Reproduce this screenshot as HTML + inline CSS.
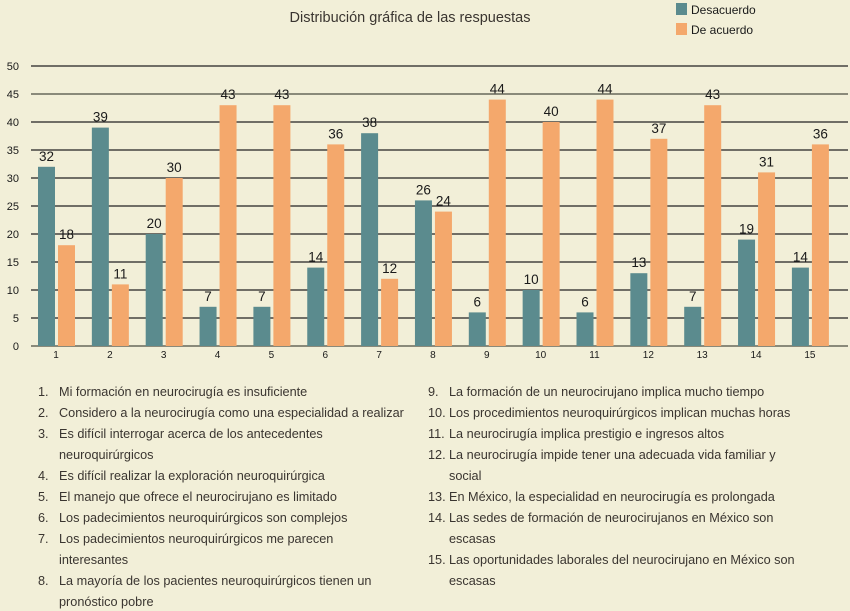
<!DOCTYPE html>
<html><head><meta charset="utf-8"><style>
body{margin:0;background:#f2efd8;font-family:"Liberation Sans",sans-serif;}
#wrap{position:relative;width:850px;height:611px;overflow:hidden;background:#f2efd8;}
.li{position:absolute;font-size:12.7px;color:#3a3530;line-height:21px;}
.li .n{position:absolute;left:0;}
.li .t{position:absolute;left:21px;white-space:nowrap;}
</style></head><body>
<div id="wrap">
<svg id="chart" width="850" height="370" style="position:absolute;left:0;top:0">
<text x="410" y="22" font-size="14.5" fill="#3a3530" text-anchor="middle">Distribución gráfica de las respuestas</text>
<g>
<rect x="676" y="3" width="11" height="12" fill="#5b8b8e"/>
<text x="691" y="14" font-size="12" fill="#1a1a1a">Desacuerdo</text>
<rect x="676" y="23" width="11" height="12" fill="#f4a86c"/>
<text x="691" y="34" font-size="12" fill="#1a1a1a">De acuerdo</text>
</g>
<g id="grid"></g><g id="bars"></g>
</svg>
<div id="list"></div>
</div>
<script>
const categories=["1","2","3","4","5","6","7","8","9","10","11","12","13","14","15"];
const desacuerdo=[32,39,20,7,7,14,38,26,6,10,6,13,7,19,14];
const deAcuerdo=[18,11,30,43,43,36,12,24,44,40,44,37,43,31,36];
const yTicks=[0,5,10,15,20,25,30,35,40,45,50];
const NS="http://www.w3.org/2000/svg";
const y=v=>346-v*5.6;
const x=i=>56+i*53.85;
function mk(tag,attrs,parent){const e=document.createElementNS(NS,tag);for(const k in attrs)e.setAttribute(k,attrs[k]);parent.appendChild(e);return e;}
const grid=document.getElementById('grid'),bars=document.getElementById('bars');
yTicks.forEach(t=>{
 const l=mk('line',{x1:31,x2:848,y1:y(t),y2:y(t),stroke:t===45||t===0?'#8a8a7a':'#222','stroke-width':t===45||t===0?2:1.2},grid);
 
 
 const tx=mk('text',{x:19,y:y(t)+4,'font-size':11,fill:'#1a1a1a','text-anchor':'end'},grid);
 tx.textContent=t;
 
 
});
categories.forEach((c,i)=>{
 const cx=x(i);
 const a=mk('rect',{x:cx-18,y:y(desacuerdo[i]),width:17,height:desacuerdo[i]*5.6,fill:'#5b8b8e'},bars);
 
 
 const b=mk('rect',{x:cx+2,y:y(deAcuerdo[i]),width:17,height:deAcuerdo[i]*5.6,fill:'#f4a86c'},bars);
 
 
 const la=mk('text',{x:cx-9.5,y:y(desacuerdo[i])-6,'font-size':13.5,fill:'#1a1a1a','text-anchor':'middle'},bars);
 la.textContent=desacuerdo[i];
 
 
 const lb=mk('text',{x:cx+10.5,y:y(deAcuerdo[i])-6,'font-size':13.5,fill:'#1a1a1a','text-anchor':'middle'},bars);
 lb.textContent=deAcuerdo[i];
 
 
 const xl=mk('text',{x:cx,y:358,'font-size':10,fill:'#1a1a1a','text-anchor':'middle'},bars);
 xl.textContent=c;
 
 
});
const items=[
[38,382,"1.","Mi formación en neurocirugía es insuficiente"],
[38,403,"2.","Considero a la neurocirugía como una especialidad a realizar"],
[38,424,"3.","Es difícil interrogar acerca de los antecedentes<br>neuroquirúrgicos"],
[38,466,"4.","Es difícil realizar la exploración neuroquirúrgica"],
[38,487,"5.","El manejo que ofrece el neurocirujano es limitado"],
[38,508,"6.","Los padecimientos neuroquirúrgicos son complejos"],
[38,529,"7.","Los padecimientos neuroquirúrgicos me parecen<br>interesantes"],
[38,571,"8.","La mayoría de los pacientes neuroquirúrgicos tienen un<br>pronóstico pobre"],
[428,382,"9.","La formación de un neurocirujano implica mucho tiempo"],
[428,403,"10.","Los procedimientos neuroquirúrgicos implican muchas horas"],
[428,424,"11.","La neurocirugía implica prestigio e ingresos altos"],
[428,445,"12.","La neurocirugía impide tener una adecuada vida familiar y<br>social"],
[428,487,"13.","En México, la especialidad en neurocirugía es prolongada"],
[428,508,"14.","Las sedes de formación de neurocirujanos en México son<br>escasas"],
[428,550,"15.","Las oportunidades laborales del neurocirujano en México son<br>escasas"]];
const list=document.getElementById('list');
items.forEach(it=>{
 const d=document.createElement('div');d.className='li';
 d.style.left=it[0]+'px';d.style.top=it[1]+'px';
 d.innerHTML='<span class="n">'+it[2]+'</span><span class="t">'+it[3]+'</span>';
 
 
 list.appendChild(d);
});
</script>
</body></html>
